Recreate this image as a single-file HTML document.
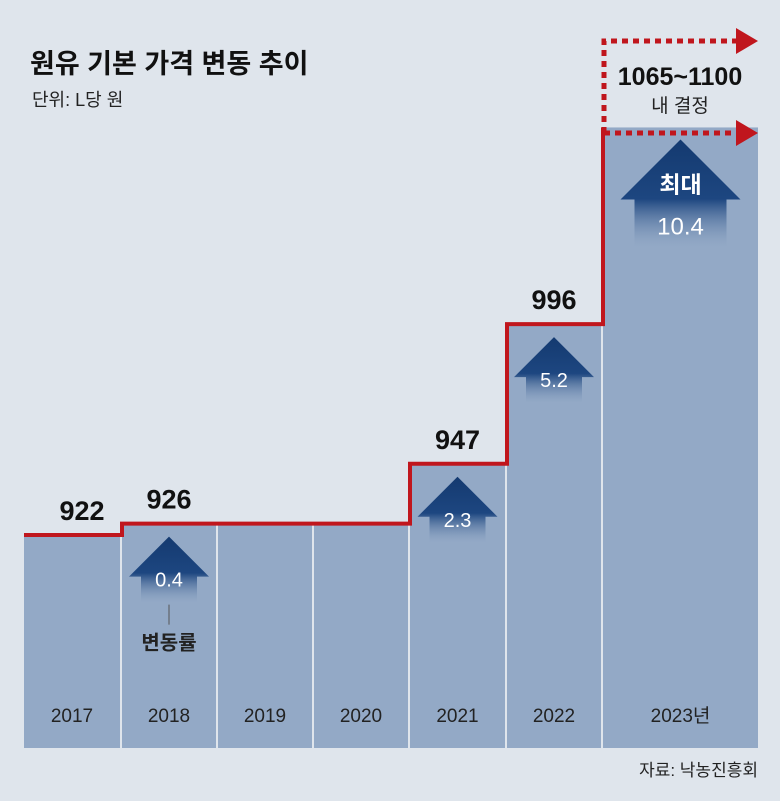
<!DOCTYPE html>
<html><head><meta charset="utf-8"><style>
body{margin:0;background:#dfe5ec;}
svg{display:block;font-family:"Liberation Sans","Noto Sans CJK KR",sans-serif;}
</style></head><body>
<svg id="chart" width="780" height="801" viewBox="0 0 780 801">
<defs>
<linearGradient id="ag" x1="0" y1="0" x2="0" y2="1">
<stop offset="0" stop-color="#143a70"/><stop offset="0.55" stop-color="#1d4680"/><stop offset="1" stop-color="#93a9c6" stop-opacity="0.2"/>
</linearGradient>
</defs>
<rect width="780" height="801" fill="#dfe5ec"/>
<text x="30" y="73" font-size="27" font-weight="bold" fill="#111">원유 기본 가격 변동 추이</text>
<text x="32" y="106" font-size="18" fill="#222">단위: L당 원</text>
<text x="758" y="776" font-size="17" fill="#222" text-anchor="end">자료: 낙농진흥회</text>
<g id="bars"></g><g id="arrows"></g><g id="line"></g><g id="labels"></g>
<g>
<polyline points="604,133 604,41 738,41" fill="none" stroke="#c0161d" stroke-width="5" stroke-dasharray="6,5"/>
<polyline points="604,133 738,133" fill="none" stroke="#c0161d" stroke-width="5" stroke-dasharray="6,5"/>
<polygon points="736,28 758,41 736,54" fill="#c0161d"/>
<polygon points="736,120 758,133 736,146" fill="#c0161d"/>
<text x="680" y="85" font-size="25" font-weight="bold" fill="#111" text-anchor="middle">1065~1100</text>
<text x="680" y="112" font-size="19" fill="#222" text-anchor="middle">내 결정</text>
</g>
</svg>
<script>
const years=["2017","2018","2019","2020","2021","2022","2023년"];
const prices=[922,926,926,926,947,996,1065];
const priceLabels=["922","926","","","947","996",""];
const changes=["","0.4","","","2.3","5.2","10.4"];
const edges=[24,122,218,314,410,507,603,758];
const baseY=748;
const y=v=>535-(v-922)*2.85;
const ns="http://www.w3.org/2000/svg";
function mk(t,a,p){const e=document.createElementNS(ns,t);for(const k in a)e.setAttribute(k,a[k]);p.appendChild(e);return e;}
const gb=document.getElementById('bars'),ga=document.getElementById('arrows'),gl=document.getElementById('line'),gt=document.getElementById('labels');
let pts=[];
years.forEach((yr,i)=>{
 const x0=edges[i],x1=edges[i+1]-(i<6?2:0),yy=y(prices[i]);
 const r=mk('rect',{x:x0,y:yy,width:x1-x0,height:baseY-yy,fill:'#93a9c6'},gb);
 
 
 const t=mk('text',{x:(x0+x1)/2,y:722,'font-size':19,fill:'#222','text-anchor':'middle'},gt);t.textContent=yr;
 
 
 pts.push(x0+' '+yy, edges[i+1]+' '+yy);
 if(priceLabels[i]){const l=mk('text',{x:(x0+x1)/2-(i==0?-10:0)-10+10,y:yy-15,'font-size':27,'font-weight':'bold',fill:'#111','text-anchor':'middle'},gt);l.textContent=priceLabels[i];
 
 }
 if(changes[i]){
  const cx=(x0+x1)/2,big=i==6,top=yy+(big?12:13);
  const hw=big?60:40,sw=big?46:28,hh=big?60:40,sl=big?48:26;
  const g=mk('g',{},ga);
  
  
  mk('path',{d:`M${cx} ${top} L${cx+hw} ${top+hh} L${cx+sw} ${top+hh} L${cx+sw} ${top+hh+sl} L${cx-sw} ${top+hh+sl} L${cx-sw} ${top+hh} L${cx-hw} ${top+hh} Z`,fill:'url(#ag)'},g);
  if(big){const a=mk('text',{x:cx,y:top+53,'font-size':23,'font-weight':'bold',fill:'#fff','text-anchor':'middle'},g);a.textContent='최대';}
  const v=mk('text',{x:cx,y:top+(big?95:50),'font-size':big?24:20,fill:'#fff','text-anchor':'middle'},g);v.textContent=changes[i];
  if(i==1){mk('line',{x1:cx,y1:top+68,x2:cx,y2:top+88,stroke:'#555','stroke-width':1},g);
   const c=mk('text',{x:cx,y:top+113,'font-size':20,'font-weight':'bold',fill:'#222','text-anchor':'middle'},g);c.textContent='변동률';}
 }
});
pts[pts.length-1]=(edges[6])+' '+y(prices[6]);
const pl=mk('polyline',{points:pts.join(' '),fill:'none',stroke:'#c0161d','stroke-width':4},gl);


</script>
</body></html>
